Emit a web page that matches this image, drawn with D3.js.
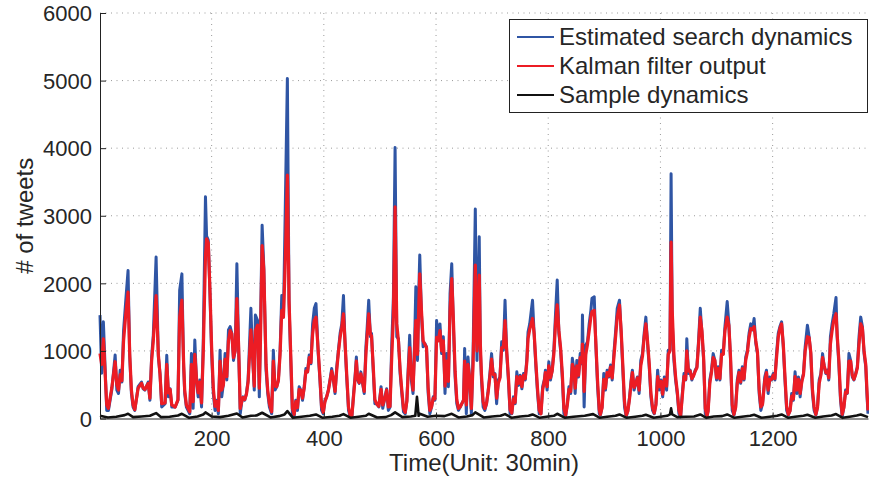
<!DOCTYPE html>
<html>
<head>
<meta charset="utf-8">
<script src="https://cdn.jsdelivr.net/npm/d3@7"></script>
<style>
html,body{margin:0;padding:0;background:#fff;}
svg{display:block;}
text{font-family:"Liberation Sans",Arial,Helvetica,sans-serif;fill:#262626;}
</style>
</head>
<body>
<svg id="chart" width="869" height="477"></svg>
<script>
// ---- data (time unit: 30 min) ----
const timeSteps = [
1,4,7,13,16,22,28,31,34,37,
40,43,47,51,54,57,60,63,69,75,
78,81,87,90,93,96,101,105,108,111,
117,120,123,126,129,135,140,143,147,150,
152,155,161,164,167,170,173,176,179,182,
185,189,191,194,197,200,203,206,209,212,
215,218,221,224,227,230,233,236,239,242,
245,248,251,254,256,259,262,265,270,273,
276,278,282,285,287,290,293,297,300,303,
307,310,313,316,319,322,325,328,331,335,
338,341,344,347,350,353,356,359,362,365,
368,371,374,377,380,383,386,390,393,396,
399,402,405,408,411,414,417,420,423,426,
429,432,435,438,441,444,447,450,453,456,
458,460,463,466,469,472,475,477,480,483,
485,488,491,494,498,502,505,509,512,515,
518,521,524,527,530,533,536,539,542,545,
548,550,553,556,559,562,564,567,569,571,
574,577,580,583,586,589,592,595,598,601,
604,607,610,613,616,619,622,625,628,631,
634,637,640,643,646,649,651,654,657,660,
663,666,670,673,677,679,681,684,687,690,
693,696,699,702,705,708,711,714,717,720,
723,726,729,732,735,738,741,744,747,750,
753,756,759,762,764,767,772,775,778,781,
784,787,790,793,795,798,801,804,807,810,
813,816,819,822,825,828,831,834,837,840,
843,846,848,851,854,857,860,861,864,867,
870,873,876,878,882,885,888,891,893,896,
899,902,905,908,911,914,917,920,923,927,
930,933,936,939,942,945,948,950,953,956,
959,962,965,968,971,974,977,980,983,986,
989,992,995,998,1001,1004,1007,1011,1014,1017,
1019,1021,1024,1027,1030,1033,1036,1039,1042,1045,
1047,1050,1053,1056,1059,1062,1065,1068,1071,1074,
1077,1080,1083,1085,1088,1091,1094,1097,1100,1103,
1106,1109,1112,1115,1119,1122,1125,1128,1131,1134,
1137,1140,1143,1146,1149,1152,1155,1158,1161,1164,
1167,1170,1173,1176,1179,1182,1186,1189,1192,1195,
1198,1201,1204,1207,1210,1213,1216,1219,1222,1225,
1228,1231,1234,1237,1240,1243,1246,1249,1252,1255,
1258,1262,1265,1268,1271,1274,1277,1280,1283,1286,
1289,1292,1295,1298,1300,1303,1306,1309,1313,1315,
1318,1321,1324,1327,1330,1333,1336,1339,1342,1345,
1348,1351,1354,1357,1360,1363,1366,1368,1370
];

const estimatedSearch = [
1530,670,1430,120,120,420,940,420,370,715,
540,1300,1750,2190,910,370,170,120,470,540,
440,420,540,270,910,1230,2390,910,665,170,
220,935,320,440,170,170,270,1900,2140,765,
370,170,70,960,150,1160,570,320,570,170,
1110,3280,2700,2640,1850,960,370,120,270,70,
1010,320,520,960,570,1310,1360,1260,860,1010,
2290,1060,70,270,320,270,370,570,1630,910,
420,1530,1450,320,1310,2860,2240,715,370,170,
70,1010,420,470,570,1010,1820,1500,2980,5030,
1700,860,70,25,270,120,470,420,270,470,
740,690,940,810,1400,1630,1700,960,570,120,
70,270,320,420,570,740,570,370,765,1010,
1260,1400,1820,1060,570,120,25,25,370,665,
910,570,520,690,520,370,1060,1310,1750,1210,
1260,715,220,220,170,470,150,320,440,120,
170,1085,1800,4010,1210,1180,665,370,100,70,
270,665,1230,570,370,1210,1950,860,1800,2420,
1550,1060,1110,1060,370,70,170,320,270,1450,
1160,1400,960,1210,370,960,470,1850,2290,1360,
615,220,120,170,220,270,1035,70,910,570,
70,960,3100,860,2690,1010,570,170,120,220,
420,665,960,615,665,220,570,615,1135,1010,
1750,960,570,70,70,320,220,690,490,640,
440,665,570,910,1280,1400,1750,1230,765,370,
70,70,470,570,715,420,840,570,715,1010,
1550,2050,1260,1010,615,70,25,220,470,370,
890,715,370,860,615,960,810,1530,170,1085,
1135,1400,1600,1780,1800,1060,470,70,50,170,
665,420,715,615,790,570,960,1280,1630,1750,
1260,715,170,25,120,320,590,715,420,520,
615,370,860,960,1260,1500,1110,765,320,120,
70,220,715,420,570,320,615,420,1010,1010,
3620,1450,860,570,370,70,25,370,665,570,
1180,665,715,570,640,715,765,1160,1630,1260,
860,70,25,120,570,715,960,860,570,765,
570,1010,960,1360,1730,1400,860,120,50,170,
570,715,520,765,570,910,1010,1260,1400,1310,
1480,1110,960,370,120,220,615,715,370,615,
570,665,570,960,1260,1360,1430,1060,570,120,
50,120,370,270,690,370,615,320,570,665,
1060,1380,1210,960,370,120,50,170,570,665,
960,765,665,715,570,1210,1400,1550,1790,1210,
810,270,25,170,420,370,960,860,615,570,
665,765,1210,1500,1360,960,765,370,70
];

const kalmanOutput = [
960,800,1180,200,150,450,840,500,420,650,
560,1150,1550,1870,950,420,200,130,450,520,
450,430,520,300,850,1150,1820,950,650,220,
230,800,380,430,200,170,280,1500,1750,850,
420,200,100,800,250,950,600,380,540,230,
950,2400,2660,2600,1900,1050,450,180,250,120,
850,420,500,880,620,1150,1300,1250,900,1000,
1775,1100,150,260,310,280,360,540,1310,950,
480,1300,1380,450,1150,2560,2200,800,420,220,
100,850,480,470,560,950,1600,1500,2240,3600,
1750,950,150,60,250,160,430,420,300,450,
700,690,900,830,1250,1450,1500,1000,620,180,
90,250,320,410,560,700,590,400,720,980,
1200,1350,1550,1100,620,170,50,40,330,620,
850,620,530,660,540,400,950,1200,1550,1250,
1220,780,280,220,180,430,200,300,420,170,
180,900,1500,3130,1400,1150,720,420,150,90,
250,600,1050,650,420,1050,1450,950,1600,2140,
1600,1150,1100,1050,450,120,170,300,290,1200,
1150,1300,1000,1150,480,850,550,1600,2070,1450,
700,280,150,170,220,270,850,200,800,600,
150,800,2270,1000,2120,1100,650,250,150,220,
400,620,880,650,650,300,520,600,1050,1050,
1450,1000,620,130,80,290,240,620,520,620,
470,640,590,850,1180,1320,1480,1250,820,430,
120,70,420,550,680,470,780,600,700,950,
1400,1680,1300,1050,680,150,50,200,430,400,
800,720,450,780,640,900,830,1100,400,950,
1100,1300,1500,1580,1600,1100,550,130,60,160,
580,450,680,630,760,600,900,1200,1500,1680,
1300,780,250,50,110,300,550,680,460,510,
600,420,780,920,1200,1400,1150,820,380,160,
80,200,620,470,550,360,580,480,950,1000,
2610,1600,950,620,400,120,40,330,620,580,
1000,700,700,590,630,700,750,1100,1500,1300,
900,150,40,110,520,680,900,860,600,740,
590,950,950,1300,1500,1380,900,200,60,160,
520,680,540,740,590,860,980,1200,1330,1320,
1360,1150,980,430,170,210,560,680,420,580,
580,640,590,900,1200,1330,1400,1100,620,180,
60,110,330,290,620,420,580,370,540,650,
1000,1210,1200,980,430,170,60,160,520,640,
900,780,680,700,600,1100,1300,1450,1550,1250,
870,330,60,160,390,380,850,850,640,580,
650,750,1100,1400,1340,1000,800,450,120
];

const sampleTimes = [
1,15,30,45,51,60,75,90,101,110,125,140,147,160,175,185,189,200,215,230,
245,255,270,280,290,305,320,330,335,345,360,375,386,398,415,428,435,448,462,475,
480,495,510,520,527,540,555,563,566,569,571,585,600,615,628,640,655,665,670,685,
700,715,723,735,750,765,772,785,800,810,816,830,845,865,880,892,905,920,927,940,
955,968,974,988,1000,1012,1017,1019,1021,1030,1045,1060,1071,1082,1095,1110,1119,1132,1145,1160,
1167,1180,1195,1208,1216,1228,1240,1255,1262,1276,1290,1305,1313,1325,1340,1350,1357,1370
];
const sampleDynamics = [
40,15,25,50,70,20,30,40,80,20,25,45,70,10,30,60,90,30,20,40,
75,15,40,45,85,15,35,60,110,10,25,40,60,10,25,40,65,10,25,40,
70,15,20,50,90,20,30,40,320,40,70,25,40,35,70,15,30,50,90,15,
30,40,65,10,30,40,60,10,30,40,70,10,25,40,65,10,25,40,60,10,
25,40,55,10,25,40,60,150,60,20,25,30,60,10,30,35,60,10,25,40,
55,10,25,40,60,10,25,40,55,10,30,45,65,10,30,45,60,20
];

const xTicks = [200,400,600,800,1000,1200];
const yTicks = [0,1000,2000,3000,4000,5000,6000];
const seriesNames = ["Estimated search dynamics","Kalman filter output","Sample dynamics"];
const seriesColors = ["#2f55a4","#ec1c24","#111111"];

// ---- layout ----
const svg = d3.select("#chart");
const L = 100, R = 868, T = 13, B = 418.5;
const x = d3.scaleLinear().domain([1,1370]).range([L,R]);
const y = d3.scaleLinear().domain([0,6000]).range([B,T]);

// grid
const grid = svg.append("g");
grid.selectAll("line.h").data(yTicks.filter(d=>d>0)).enter().append("line")
  .attr("x1",L).attr("x2",R).attr("y1",d=>y(d)).attr("y2",d=>y(d))
  .attr("stroke","#9a9a9a").attr("stroke-width",1).attr("stroke-dasharray","1,4.5");
grid.selectAll("line.v").data(xTicks).enter().append("line")
  .attr("x1",d=>x(d)).attr("x2",d=>x(d)).attr("y1",T).attr("y2",B)
  .attr("stroke","#9a9a9a").attr("stroke-width",1).attr("stroke-dasharray","1,4.5");

// series
const blueData = timeSteps.map((t,i)=>[t,estimatedSearch[i]]);
const redData = timeSteps.map((t,i)=>[t,kalmanOutput[i]]);
const blackData = sampleTimes.map((t,i)=>[t,sampleDynamics[i]]);
const line = d3.line().x(d=>x(d[0])).y(d=>y(d[1]));
const plot = svg.append("g");
plot.append("path").datum(blueData).attr("d",line).attr("fill","none")
  .attr("stroke",seriesColors[0]).attr("stroke-width",3).attr("stroke-linejoin","round");
plot.append("path").datum(redData).attr("d",line).attr("fill","none")
  .attr("stroke",seriesColors[1]).attr("stroke-width",3.2).attr("stroke-linejoin","round");
plot.append("path").datum(blackData).attr("d",line).attr("fill","none")
  .attr("stroke",seriesColors[2]).attr("stroke-width",2.6).attr("stroke-linejoin","round");

// axes
const fmt = d3.format("d");
const xAxis = d3.axisBottom(x).tickValues(xTicks).tickFormat(fmt).tickSizeInner(-6).tickSizeOuter(0).tickPadding(12);
const yAxis = d3.axisLeft(y).tickValues(yTicks).tickFormat(fmt).tickSizeInner(-6).tickSizeOuter(0).tickPadding(8);
const gx = svg.append("g").attr("transform",`translate(0,${B})`).call(xAxis);
const gy = svg.append("g").attr("transform",`translate(${L},0)`).call(yAxis);
[gx,gy].forEach(g=>{
  g.select(".domain").attr("stroke","#222").attr("stroke-width",1);
  g.selectAll(".tick line").attr("stroke","#222");
  g.selectAll(".tick text").style("font-size","22px").attr("fill","#262626")
    .style("font-family","'Liberation Sans',Arial,sans-serif");
});
gy.selectAll(".tick text").attr("dy","0.35em");

// axis labels
svg.append("text").attr("x",(L+R)/2).attr("y",471).attr("text-anchor","middle")
  .style("font-size","24px").text("Time(Unit: 30min)");
svg.append("text").attr("transform",`translate(33,${(T+B)/2}) rotate(-90)`)
  .attr("text-anchor","middle").style("font-size","24px").text("# of tweets");

// legend
const lg = svg.append("g");
lg.append("rect").attr("x",509.5).attr("y",19.5).attr("width",358).attr("height",93)
  .attr("fill","#fff").attr("stroke","#222").attr("stroke-width",1);
const rowsY = [37,66,95];
seriesNames.forEach((n,i)=>{
  lg.append("line").attr("x1",517).attr("x2",554).attr("y1",rowsY[i]).attr("y2",rowsY[i])
    .attr("stroke",seriesColors[i]).attr("stroke-width",2);
  lg.append("text").attr("x",559).attr("y",rowsY[i]).attr("dy","0.35em")
    .style("font-size","24px").text(n);
});
</script>
</body>
</html>
